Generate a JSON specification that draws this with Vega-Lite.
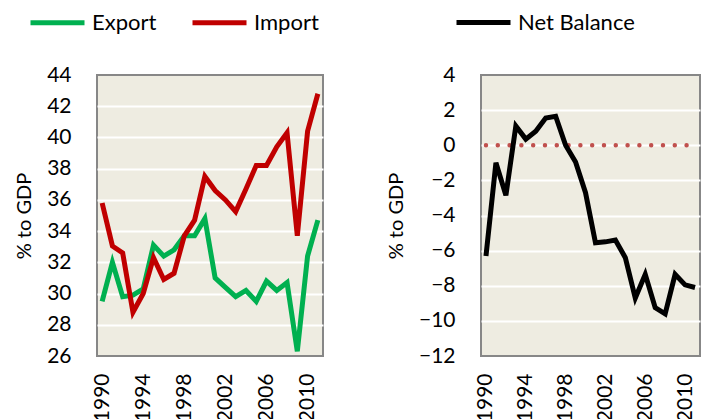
{
  "$schema": "https://vega.github.io/schema/vega-lite/v6.json",
  "background": "white",
  "padding": {"left": 13, "top": -8, "right": 0, "bottom": 0},
  "spacing": 56,
  "config": {
    "font": "Lato",
    "view": {"fill": "#EEECE1", "stroke": "#878787", "strokeWidth": 2},
    "axis": {"labelFont": "Lato", "labelFontSize": 21, "labelColor": "black", "titleFont": "Lato", "titleFontSize": 20, "titleFontWeight": "normal", "titleColor": "black", "ticks": false, "domain": false},
    "axisX": {"labelAngle": -90, "labelPadding": 17, "grid": false, "title": null},
    "axisY": {"labelPadding": 26, "titlePadding": 12, "gridWidth": 2},
    "legend": {"orient": "none", "direction": "horizontal", "title": null, "symbolType": "stroke", "symbolStrokeWidth": 5, "symbolSize": 2916, "labelFont": "Lato", "labelFontSize": 22, "labelColor": "black", "labelOffset": 5, "columnPadding": 25, "padding": 0}
  },
  "datasets": {
    "trade": [
      {"year": 1990, "series": "Export", "value": 29.5},
      {"year": 1991, "series": "Export", "value": 32.0},
      {"year": 1992, "series": "Export", "value": 29.8},
      {"year": 1993, "series": "Export", "value": 29.9},
      {"year": 1994, "series": "Export", "value": 30.3},
      {"year": 1995, "series": "Export", "value": 33.1},
      {"year": 1996, "series": "Export", "value": 32.4},
      {"year": 1997, "series": "Export", "value": 32.8},
      {"year": 1998, "series": "Export", "value": 33.7},
      {"year": 1999, "series": "Export", "value": 33.7},
      {"year": 2000, "series": "Export", "value": 34.8},
      {"year": 2001, "series": "Export", "value": 31.0},
      {"year": 2002, "series": "Export", "value": 30.4},
      {"year": 2003, "series": "Export", "value": 29.8},
      {"year": 2004, "series": "Export", "value": 30.2},
      {"year": 2005, "series": "Export", "value": 29.5},
      {"year": 2006, "series": "Export", "value": 30.8},
      {"year": 2007, "series": "Export", "value": 30.2},
      {"year": 2008, "series": "Export", "value": 30.7},
      {"year": 2009, "series": "Export", "value": 26.3},
      {"year": 2010, "series": "Export", "value": 32.4},
      {"year": 2011, "series": "Export", "value": 34.7},
      {"year": 1990, "series": "Import", "value": 35.8},
      {"year": 1991, "series": "Import", "value": 33.05},
      {"year": 1992, "series": "Import", "value": 32.6},
      {"year": 1993, "series": "Import", "value": 28.8},
      {"year": 1994, "series": "Import", "value": 30.0},
      {"year": 1995, "series": "Import", "value": 32.3},
      {"year": 1996, "series": "Import", "value": 30.9},
      {"year": 1997, "series": "Import", "value": 31.3},
      {"year": 1998, "series": "Import", "value": 33.7},
      {"year": 1999, "series": "Import", "value": 34.7},
      {"year": 2000, "series": "Import", "value": 37.5},
      {"year": 2001, "series": "Import", "value": 36.6},
      {"year": 2002, "series": "Import", "value": 36.0},
      {"year": 2003, "series": "Import", "value": 35.25},
      {"year": 2004, "series": "Import", "value": 36.7},
      {"year": 2005, "series": "Import", "value": 38.2},
      {"year": 2006, "series": "Import", "value": 38.2},
      {"year": 2007, "series": "Import", "value": 39.4},
      {"year": 2008, "series": "Import", "value": 40.3},
      {"year": 2009, "series": "Import", "value": 33.7},
      {"year": 2010, "series": "Import", "value": 40.4},
      {"year": 2011, "series": "Import", "value": 42.8}
    ],
    "net": [
      {"year": 1990, "series": "Net Balance", "value": -6.3},
      {"year": 1991, "series": "Net Balance", "value": -1.0},
      {"year": 1992, "series": "Net Balance", "value": -2.85},
      {"year": 1993, "series": "Net Balance", "value": 1.1},
      {"year": 1994, "series": "Net Balance", "value": 0.35},
      {"year": 1995, "series": "Net Balance", "value": 0.8},
      {"year": 1996, "series": "Net Balance", "value": 1.55},
      {"year": 1997, "series": "Net Balance", "value": 1.65},
      {"year": 1998, "series": "Net Balance", "value": 0.0},
      {"year": 1999, "series": "Net Balance", "value": -0.95},
      {"year": 2000, "series": "Net Balance", "value": -2.7},
      {"year": 2001, "series": "Net Balance", "value": -5.55},
      {"year": 2002, "series": "Net Balance", "value": -5.5},
      {"year": 2003, "series": "Net Balance", "value": -5.4},
      {"year": 2004, "series": "Net Balance", "value": -6.4},
      {"year": 2005, "series": "Net Balance", "value": -8.7},
      {"year": 2006, "series": "Net Balance", "value": -7.35},
      {"year": 2007, "series": "Net Balance", "value": -9.25},
      {"year": 2008, "series": "Net Balance", "value": -9.6},
      {"year": 2009, "series": "Net Balance", "value": -7.35},
      {"year": 2010, "series": "Net Balance", "value": -7.95},
      {"year": 2011, "series": "Net Balance", "value": -8.1}
    ],
    "zero": [
      {"year": 1990, "value": 0}, {"year": 1991, "value": 0}, {"year": 1992, "value": 0},
      {"year": 1993, "value": 0}, {"year": 1994, "value": 0}, {"year": 1995, "value": 0},
      {"year": 1996, "value": 0}, {"year": 1997, "value": 0}, {"year": 1998, "value": 0},
      {"year": 1999, "value": 0}, {"year": 2000, "value": 0}, {"year": 2001, "value": 0},
      {"year": 2002, "value": 0}, {"year": 2003, "value": 0}, {"year": 2004, "value": 0},
      {"year": 2005, "value": 0}, {"year": 2006, "value": 0}, {"year": 2007, "value": 0},
      {"year": 2008, "value": 0}, {"year": 2009, "value": 0}, {"year": 2010, "value": 0},
      {"year": 2011, "value": 0}
    ]
  },
  "resolve": {"scale": {"color": "independent", "y": "independent", "x": "independent"}},
  "hconcat": [
    {
      "width": 226,
      "height": 281,
      "data": {"name": "trade"},
      "mark": {"type": "line", "strokeWidth": 5},
      "encoding": {
        "x": {"field": "year", "type": "ordinal", "scale": {"type": "point", "padding": 0.5}, "axis": {"values": [1990, 1994, 1998, 2002, 2006, 2010]}},
        "y": {"field": "value", "type": "quantitative", "scale": {"domain": [26, 44], "nice": false, "zero": false},
              "axis": {"title": "% to GDP", "values": [26, 28, 30, 32, 34, 36, 38, 40, 42, 44],
                       "gridColor": {"condition": {"test": "datum.value == 26 || datum.value == 44", "value": "transparent"}, "value": "white"}}},
        "color": {"field": "series", "type": "nominal", "scale": {"domain": ["Export", "Import"], "range": ["#00B050", "#C00000"]},
                  "legend": {"legendX": -69, "legendY": -82}}
      }
    },
    {
      "width": 219,
      "height": 281,
      "encoding": {
        "x": {"field": "year", "type": "ordinal", "scale": {"type": "point", "padding": 0.5}, "axis": {"values": [1990, 1994, 1998, 2002, 2006, 2010]}},
        "y": {"field": "value", "type": "quantitative", "scale": {"domain": [-12, 4], "nice": false, "zero": false},
              "axis": {"title": "% to GDP", "values": [-12, -10, -8, -6, -4, -2, 0, 2, 4],
                       "gridColor": {"condition": {"test": "datum.value == -12 || datum.value == 4", "value": "transparent"}, "value": "white"}}}
      },
      "layer": [
        {
          "data": {"name": "zero"},
          "mark": {"type": "line", "color": "#C0504D", "strokeWidth": 4.5, "strokeDash": [0, 11.8], "strokeCap": "round"}
        },
        {
          "data": {"name": "net"},
          "mark": {"type": "line", "strokeWidth": 5},
          "encoding": {
            "color": {"field": "series", "type": "nominal", "scale": {"domain": ["Net Balance"], "range": ["black"]},
                      "legend": {"legendX": -27, "legendY": -82}}
          }
        }
      ]
    }
  ]
}
